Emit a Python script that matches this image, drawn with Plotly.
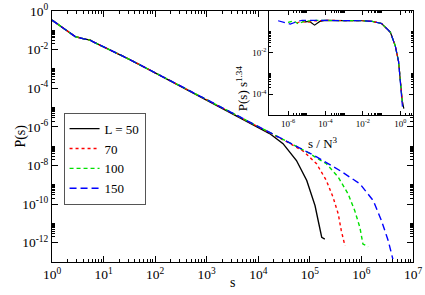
import plotly.graph_objects as go

# ---- main panel data: P(s) vs s ----
s_head = [1, 1.585, 2.82, 3.98, 5.5, 6.3, 10, 31.6, 100, 316, 1000, 3162, 6310]
p_head = [0.339, 0.141, 0.0468, 0.0372, 0.0309, 0.0251, 0.0141, 3.16e-3, 6.31e-4,
          1.26e-4, 2.51e-5, 5.01e-6, 1.91e-6]

s_tail_50 = [1e4, 16600, 30200, 55000, 87100, 107000, 126000, 145000, 155000, 170000, 195000]
p_tail_50 = [9.5e-7, 4.5e-7, 1.35e-7, 1.8e-8, 1.66e-9, 3.4e-10, 8.3e-11, 1.38e-11, 5.1e-12,
             1.9e-12, 1.55e-12]

s_tail_70 = [1e4, 2e4, 40700, 74100, 135000, 209000, 282000, 355000, 407000, 479000]
p_tail_70 = [1.0e-6, 4.0e-7, 1.4e-7, 5.6e-8, 1.23e-8, 1.66e-9, 2.24e-10, 3.1e-11, 4.2e-12, 6.9e-13]

s_tail_100 = [1e4, 31600, 1e5, 135000, 209000, 355000, 550000, 741000, 933000, 1.07e6, 1.35e6]
p_tail_100 = [1e-6, 2.0e-7, 4.2e-8, 2.4e-8, 1.23e-8, 2.5e-9, 3.4e-10, 4.6e-11, 6.2e-12,
              8.5e-13, 6.2e-13]

s_tail_150 = [1e4, 31600, 135000, 380000, 933000, 1.7e6, 2.45e6, 3.31e6, 4.07e6]
p_tail_150 = [1e-6, 2.1e-7, 2.8e-8, 5.5e-9, 1.12e-9, 1.5e-10, 1.38e-11, 1.26e-12, 1.4e-13]

# ---- inset data: P(s) s^1.34 vs s/N^3 ----
x_itail = [0.0316, 0.1, 0.295, 0.537, 0.813, 1, 1.26]
y_itail = [0.316, 0.251, 0.0955, 0.0214, 3.63e-3, 4.79e-4, 5.01e-5]

x_ihead_50 = [7.94e-6, 1.41e-5, 2.63e-5, 5.01e-5, 1e-4, 1e-3, 1e-2]
y_ihead_50 = [0.302, 0.316, 0.209, 0.316, 0.355, 0.355, 0.339]
x_iend_50, y_iend_50 = [1.55], [2.0e-5]

x_ihead_70 = [2.88e-6, 5.01e-6, 1e-5, 2.51e-5, 1e-4, 1e-3, 1e-2]
y_ihead_70 = [0.263, 0.316, 0.282, 0.331, 0.355, 0.355, 0.339]
x_iend_70, y_iend_70 = [1.38], [2.51e-5]

x_ihead_100 = [1e-6, 2.0e-6, 3.55e-6, 7.08e-6, 3.16e-5, 1e-3, 1e-2]
y_ihead_100 = [0.282, 0.331, 0.240, 0.316, 0.355, 0.355, 0.339]
x_iend_100, y_iend_100 = [1.35], [2.82e-5]

x_ihead_150 = [2.95e-7, 6.31e-7, 1.32e-6, 3.16e-6, 5.62e-6, 3.16e-5, 1e-3, 1e-2]
y_ihead_150 = [0.339, 0.282, 0.234, 0.316, 0.355, 0.355, 0.355, 0.339]
x_iend_150, y_iend_150 = [1.30], [2.51e-5]

labels = ["L = 50", "70", "100", "150"]
colors = ["#000000", "#ff0000", "#00e000", "#0000ff"]
dashes = ["solid", "dot", "4px,3px", "7px,4px"]

main_tails = [(s_tail_50, p_tail_50), (s_tail_70, p_tail_70),
              (s_tail_100, p_tail_100), (s_tail_150, p_tail_150)]
inset_parts = [(x_ihead_50, y_ihead_50, x_iend_50, y_iend_50),
               (x_ihead_70, y_ihead_70, x_iend_70, y_iend_70),
               (x_ihead_100, y_ihead_100, x_iend_100, y_iend_100),
               (x_ihead_150, y_ihead_150, x_iend_150, y_iend_150)]

FONT = "Liberation Serif, Times New Roman, serif"


def F(size):
    return dict(family=FONT, size=size, color="black")


fig = go.Figure()

for i in range(4):
    st, pt = main_tails[i]
    fig.add_trace(go.Scatter(
        x=s_head + st, y=p_head + pt, mode="lines", name=labels[i],
        line=dict(color=colors[i], width=1.4, dash=dashes[i]),
        xaxis="x", yaxis="y"))

for i in range(4):
    xh, yh, xe, ye = inset_parts[i]
    fig.add_trace(go.Scatter(
        x=xh + x_itail + xe, y=yh + y_itail + ye, mode="lines", showlegend=False,
        line=dict(color=colors[i], width=1.2, dash=dashes[i]),
        xaxis="x2", yaxis="y2"))


def sup(n):
    return "10<sup>%d</sup>" % n


def minor_vals(exps, ks=range(2, 11)):
    return [k * 10.0 ** e for e in exps for k in ks]


main_x_exp = list(range(0, 8))
main_y_exp = list(range(0, -13, -2))
in_x_exp = [-6, -4, -2, 0]
in_y_exp = [-2, -4]

common_ax = dict(type="log", showline=True, linecolor="black", linewidth=1,
                 mirror="ticks", ticks="inside", tickcolor="black", showgrid=False,
                 zeroline=False, automargin=False, ticklabeloverflow="allow")

fig.update_layout(
    width=425, height=295,
    margin=dict(l=52, r=12, t=11, b=33, autoexpand=False),
    paper_bgcolor="white", plot_bgcolor="white",
    font=F(14),
    xaxis=dict(**common_ax, domain=[0, 1], range=[0, 7],
               tickvals=[10.0 ** e for e in main_x_exp],
               ticktext=[sup(e) for e in main_x_exp], ticklen=6,
               tickfont=F(13.5),
               minor=dict(tickvals=minor_vals(range(0, 7), range(2, 10)),
                          ticks="inside", ticklen=3, tickcolor="black")),
    yaxis=dict(**common_ax, domain=[0, 1], range=[-13, 0],
               tickvals=[10.0 ** e for e in main_y_exp],
               ticktext=[sup(e) for e in main_y_exp], ticklen=6,
               tickfont=F(13.5),
               minor=dict(tickvals=minor_vals(range(-12, 0, 2)),
                          ticks="inside", ticklen=3, tickcolor="black")),
    xaxis2=dict(**common_ax, domain=[0.602, 1.0], range=[-7, 0.68], anchor="y2",
                tickvals=[10.0 ** e for e in in_x_exp],
                ticktext=[sup(e) for e in in_x_exp], ticklen=4,
                tickfont=F(9),
                minor=dict(tickvals=minor_vals([-6, -4, -2, 0]),
                           ticks="inside", ticklen=2, tickcolor="black")),
    yaxis2=dict(**common_ax, domain=[0.586, 1.0], range=[-5, 0], anchor="x2",
                tickvals=[10.0 ** e for e in in_y_exp],
                ticktext=[sup(e) for e in in_y_exp], ticklen=4,
                tickfont=F(9),
                minor=dict(tickvals=minor_vals([-4, -2]),
                           ticks="inside", ticklen=2, tickcolor="black")),
    legend=dict(x=0.032, y=0.595, xanchor="left", yanchor="top",
                bgcolor="white", bordercolor="#555", borderwidth=1,
                font=F(13), tracegroupgap=0, itemwidth=30),
    showlegend=True,
)

fig.add_annotation(text="s", x=0.5, y=-0.08, xref="paper", yref="paper",
                   showarrow=False, font=F(14), yanchor="middle")
fig.add_annotation(text="P(s)", x=-0.116, y=0.5, xref="paper", yref="paper",
                   showarrow=False, font=F(14), textangle=-90)
fig.add_annotation(text="s / N<sup>3</sup>", x=0.798, y=0.474, xref="paper", yref="paper",
                   showarrow=False, font=F(13))
fig.add_annotation(text="P(s) s<sup>1.34</sup>", x=0.525, y=0.79, xref="paper", yref="paper",
                   showarrow=False, font=F(13), textangle=-90)

fig.write_html("out.html",
               config={"displayModeBar": False, "staticPlot": True},
               post_script="document.body.style.margin='0';"
                           "document.body.style.overflow='hidden';")
